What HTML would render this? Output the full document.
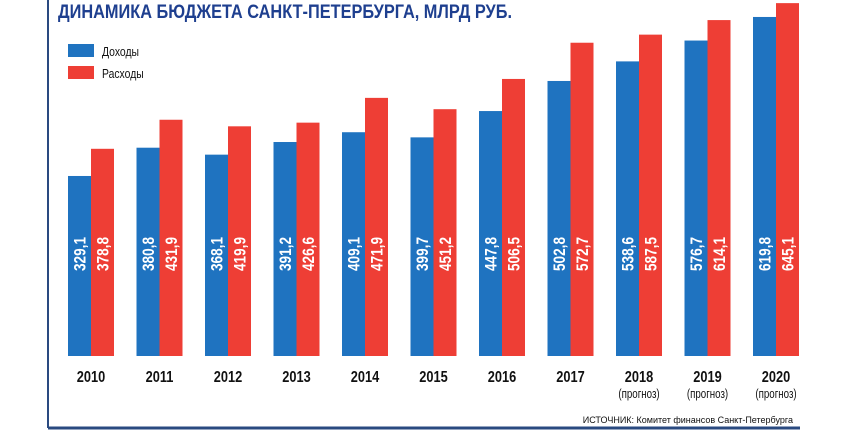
<!DOCTYPE html>
<html><head><meta charset="utf-8"><style>
html,body{margin:0;padding:0;background:#fff;width:844px;height:430px;overflow:hidden}
svg{display:block}
text{font-family:"Liberation Sans",sans-serif}
</style></head><body>
<svg id="chart" width="844" height="430" viewBox="0 0 844 430">
<line x1="48" y1="0" x2="48" y2="428" stroke="#2a4a80" stroke-width="2"/>
<line x1="48" y1="428" x2="800" y2="428" stroke="#2a4a80" stroke-width="3"/>
<text x="58" y="18" font-size="19" font-weight="bold" fill="#1e3f8f" transform="translate(58,0) scale(0.86,1) translate(-58,0)">ДИНАМИКА БЮДЖЕТА САНКТ-ПЕТЕРБУРГА, МЛРД РУБ.</text>
<rect x="68" y="44" width="26" height="13" fill="#1f73c0"/>
<text x="102" y="56" font-size="13" fill="#111" transform="translate(102,0) scale(0.8,1) translate(-102,0)">Доходы</text>
<rect x="68" y="66" width="26" height="13" fill="#ee3e35"/>
<text x="102" y="78" font-size="13" fill="#111" transform="translate(102,0) scale(0.8,1) translate(-102,0)">Расходы</text>
<text x="793" y="423" font-size="9" fill="#111" text-anchor="end">ИСТОЧНИК: Комитет финансов Санкт-Петербурга</text>
<g id="bars"></g>
</svg>
<script>
const years = ["2010","2011","2012","2013","2014","2015","2016","2017","2018","2019","2020"];
const forecast = [false,false,false,false,false,false,false,false,true,true,true];
const income = [329.1,380.8,368.1,391.2,409.1,399.7,447.8,502.8,538.6,576.7,619.8];
const expense = [378.8,431.9,419.9,426.6,471.9,451.2,506.5,572.7,587.5,614.1,645.1];
const NS="http://www.w3.org/2000/svg";
const base=356, scale=0.547, x0=68, step=68.5, bw=23;
const xPos=i=>x0+i*step;
const yPos=v=>base-v*scale;
const g=document.getElementById('bars');
function mk(tag,attrs){const e=document.createElementNS(NS,tag);for(const k in attrs)e.setAttribute(k,attrs[k]);return e;}
years.forEach((y,i)=>{
  [[income,'#1f73c0','income'],[expense,'#ee3e35','expense']].forEach(([arr,col,nm],j)=>{
    const x=xPos(i)+j*bw, top=yPos(arr[i]);
    const r=mk('rect',{x:x,y:top,width:bw,height:base-top,fill:col});
    
    
    g.appendChild(r);
    const cx=x+bw/2+6, cy=254;
    const t=mk('text',{x:0,y:0,'font-size':17,'font-weight':'bold',fill:'#fff','text-anchor':'middle',transform:`translate(${cx},${cy}) rotate(-90) scale(0.8,1)`});
    t.textContent=arr[i].toFixed(1).replace('.',',');
    
    
    g.appendChild(t);
  });
  const lx=xPos(i)+bw;
  const t=mk('text',{x:0,y:0,'font-size':16,'font-weight':'bold',fill:'#111','text-anchor':'middle',transform:`translate(${lx},382) scale(0.8,1)`});
  t.textContent=y;
  
  
  g.appendChild(t);
  if(forecast[i]){
    const f=mk('text',{x:0,y:0,'font-size':13,fill:'#111','text-anchor':'middle',transform:`translate(${lx},398) scale(0.75,1)`});
    f.textContent='(прогноз)';
    
    
    g.appendChild(f);
  }
});
</script>
</body></html>
